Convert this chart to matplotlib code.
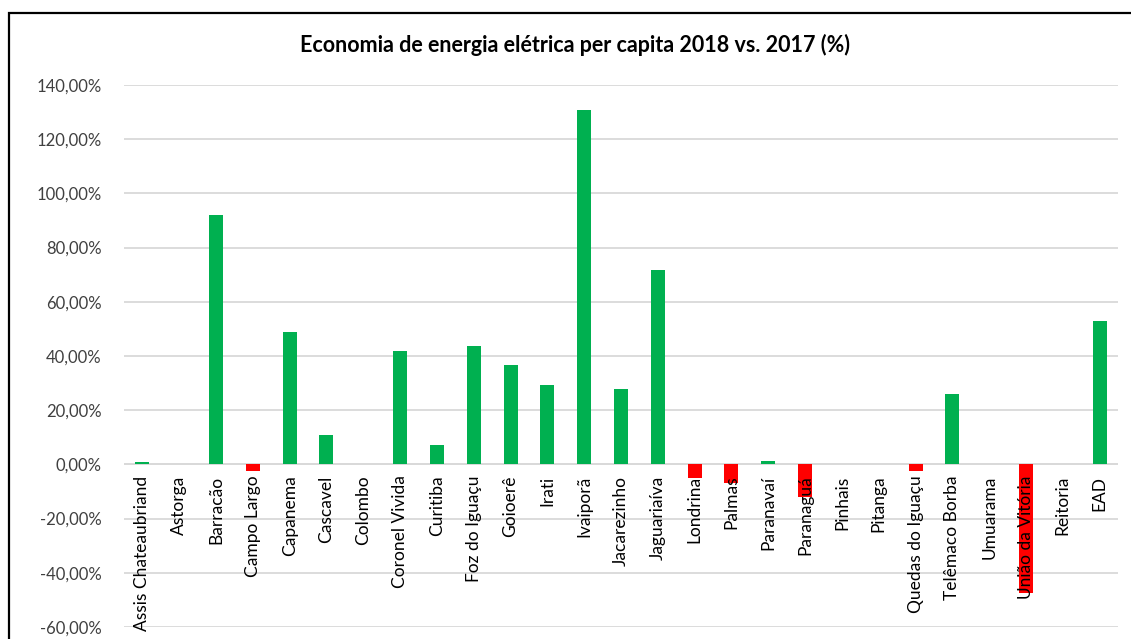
import matplotlib
matplotlib.use("Agg")
import matplotlib.pyplot as plt
from matplotlib.patches import Rectangle
from matplotlib.ticker import FuncFormatter

campi = [
    "Assis Chateaubriand", "Astorga", "Barracão", "Campo Largo", "Capanema",
    "Cascavel", "Colombo", "Coronel Vivida", "Curitiba", "Foz do Iguaçu",
    "Goioerê", "Irati", "Ivaiporã", "Jacarezinho", "Jaguariaíva", "Londrina",
    "Palmas", "Paranavaí", "Paranaguá", "Pinhais", "Pitanga",
    "Quedas do Iguaçu", "Telêmaco Borba", "Umuarama", "União da Vitória",
    "Reitoria", "EAD",
]
economia_pct = [
    0.8, 0.0, 92.0, -2.5, 49.0,
    10.7, 0.0, 42.0, 7.0, 43.6,
    36.6, 29.2, 130.8, 27.7, 71.7, -4.9,
    -7.0, 1.1, -12.0, 0.0, 0.0,
    -2.5, 25.9, 0.0, -47.5,
    0.0, 52.9,
]
y_ticks = [-60, -40, -20, 0, 20, 40, 60, 80, 100, 120, 140]

GREEN = "#00B050"
RED = "#FF0000"
TEXT = "#404040"
FONT = ["Lato", "DejaVu Sans"]

W, H = 1131, 639
fig = plt.figure(figsize=(W / 100, H / 100), dpi=100)
fig.patch.set_facecolor("white")

# chart frame (extends past right and bottom edges)
fig.add_artist(Rectangle((8.5 / W, -0.05), 1.2, 1.05 - 12.5 / H,
                         transform=fig.transFigure, fill=False,
                         edgecolor="black", linewidth=1.6))

left, right = 124 / W, 1118 / W
top, bottom = (H - 85) / H, (H - 627) / H
ax = fig.add_axes([left, bottom, right - left, top - bottom])

x = list(range(len(campi)))
colors = [GREEN if v >= 0 else RED for v in economia_pct]
ax.bar(x, economia_pct, width=0.38, color=colors, zorder=3)

ax.set_xlim(-0.5, len(campi) - 0.5)
ax.set_ylim(-60, 140)
ax.set_yticks(y_ticks)
ax.yaxis.set_major_formatter(FuncFormatter(lambda v, _: f"{v:.2f}%".replace(".", ",")))
ax.tick_params(axis="y", length=0, pad=16, labelsize=12, labelcolor=TEXT)
for lab in ax.get_yticklabels():
    lab.set_fontfamily(FONT)
ax.grid(axis="y", color="#D9D9D9", linewidth=1.3, zorder=0)
ax.set_xticks([])
for s in ax.spines.values():
    s.set_visible(False)
ax.axhline(0, color="#D9D9D9", linewidth=1.3, zorder=1)

# category names written just below the zero line
for xi, name in zip(x, campi):
    ax.annotate(name, xy=(xi, 0), xytext=(0, -8), textcoords="offset points",
                rotation=90, ha="center", va="top", fontsize=12.5,
                color="black", family=FONT, zorder=4)

fig.text(575 / W, 1 - 45 / H, "Economia de energia elétrica per capita 2018 vs. 2017 (%)",
         ha="center", va="center", fontsize=15.5, fontweight="bold",
         color="black", family=FONT)

fig.savefig("out.png", dpi=100)
